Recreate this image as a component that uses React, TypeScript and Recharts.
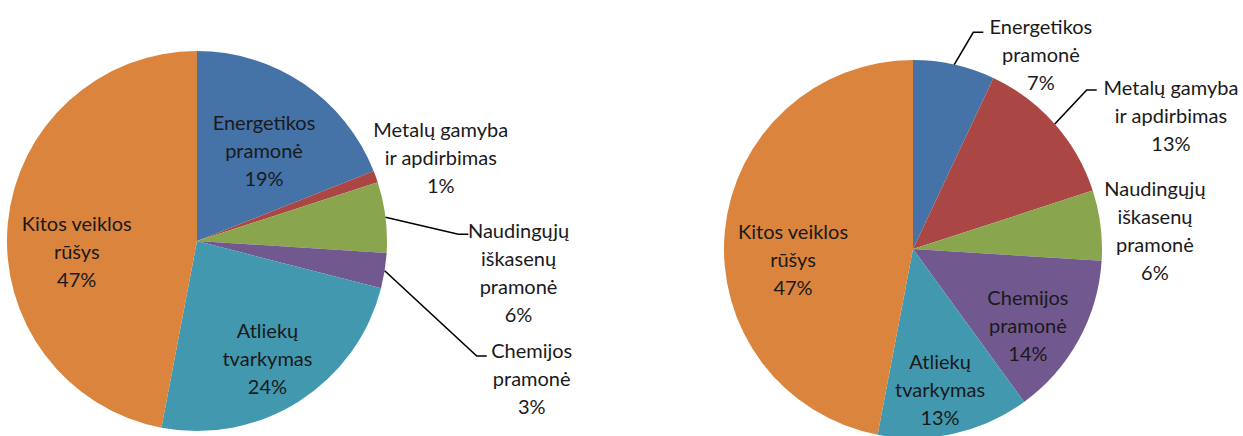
import * as React from 'react';
import { PieChart, Pie, Cell } from 'recharts';

// categories (line breaks as in the picture)
const categories = [
  'Energetikos\npramonė',
  'Metalų gamyba\nir apdirbimas',
  'Naudingųjų\niškasenų\npramonė',
  'Chemijos\npramonė',
  'Atliekų\ntvarkymas',
  'Kitos veiklos\nrūšys',
];
const leftValues = [19, 1, 6, 3, 24, 47];
const rightValues = [7, 13, 6, 14, 13, 47];
const colors = ['#4572A7', '#AA4643', '#89A54E', '#71588F', '#4198AF', '#DB843D'];

type Place = { rf: number; da: number; elbow?: { rf: number; da: number } };

// label placement relative to each slice (radius factor, angle shift)
const leftLayout: Place[] = [
  { rf: 0.593, da: -2.3 },
  { rf: 1.357, da: -0.8 },
  { rf: 1.7, da: -12.65, elbow: { rf: 1.376, da: -5.73 } },
  { rf: 1.903, da: -13.23, elbow: { rf: 1.592, da: -13.35 } },
  { rf: 0.721, da: -1.44 },
  { rf: 0.635, da: 10 },
];
const rightLayout: Place[] = [
  { rf: 1.236, da: -20.6, elbow: { rf: 1.19, da: -2.95 } },
  { rf: 1.538, da: -13.95, elbow: { rf: 1.246, da: 1.07 } },
  { rf: 1.284, da: -2.7 },
  { rf: 0.728, da: -4.55 },
  { rf: 0.757, da: -1.7 },
  { rf: 0.637, da: 10.16 },
];

const RAD = Math.PI / 180;
const FONT = 'Lato, "Open Sans", sans-serif';

const makeLabel = (layout: Place[]) => (props: any) => {
  const { cx, cy, midAngle, outerRadius, index, value } = props;
  const name = props.name ?? props.payload?.name ?? '';
  const cfg = layout[index];
  const pt = (rf: number, da: number) => {
    const a = (midAngle + da) * RAD;
    return [cx + outerRadius * rf * Math.cos(a), cy - outerRadius * rf * Math.sin(a)];
  };
  const [tx, ty] = pt(cfg.rf, cfg.da);
  const lines = [...String(name).split('\n'), `${value}%`];
  const lh = 28;
  const y0 = ty - ((lines.length - 1) * lh) / 2;
  let leader = null;
  if (cfg.elbow) {
    const [sx, sy] = pt(1, 0);
    const [ex, ey] = pt(cfg.elbow.rf, cfg.elbow.da);
    leader = (
      <path d={`M${sx},${sy}L${ex},${ey}L${ex + 10},${ey}`} stroke="#000" strokeWidth={1.6} fill="none" />
    );
  }
  return (
    <g>
      {leader}
      <text x={tx} y={y0} textAnchor="middle" fontFamily={FONT} fontSize={20} fill="#1a1a1a">
        {lines.map((l, i) => (
          <tspan key={i} x={tx} y={y0 + i * lh} dominantBaseline="central">
            {l}
          </tspan>
        ))}
      </text>
    </g>
  );
};

export default function App() {
  const leftData = categories.map((name, i) => ({ name, value: leftValues[i] }));
  const rightData = categories.map((name, i) => ({ name, value: rightValues[i] }));
  return (
    <div style={{ position: 'absolute', left: 0, top: 0, background: '#fff' }}>
      <PieChart width={1243} height={436} margin={{ top: 0, right: 0, bottom: 0, left: 0 }}>
        <Pie
          data={leftData}
          dataKey="value"
          nameKey="name"
          cx={197}
          cy={241}
          outerRadius={190}
          startAngle={90}
          endAngle={-270}
          stroke="none"
          label={makeLabel(leftLayout)}
          labelLine={false}
          isAnimationActive={false}
        >
          {leftData.map((_, i) => (
            <Cell key={i} fill={colors[i]} />
          ))}
        </Pie>
        <Pie
          data={rightData}
          dataKey="value"
          nameKey="name"
          cx={913}
          cy={249}
          outerRadius={189}
          startAngle={90}
          endAngle={-270}
          stroke="none"
          label={makeLabel(rightLayout)}
          labelLine={false}
          isAnimationActive={false}
        >
          {rightData.map((_, i) => (
            <Cell key={i} fill={colors[i]} />
          ))}
        </Pie>
      </PieChart>
    </div>
  );
}
